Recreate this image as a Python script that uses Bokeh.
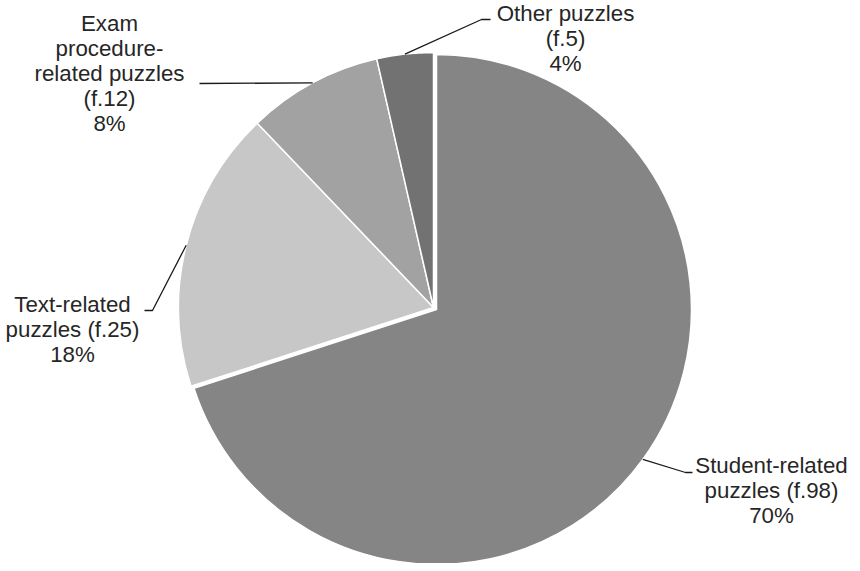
import math
from bokeh.plotting import figure
from bokeh.models import Range1d, ColumnDataSource
from bokeh.core.properties import value
from bokeh.embed import file_html
from bokeh.resources import INLINE

# ---- data ----
categories = ["Student-related puzzles", "Text-related puzzles",
              "Exam procedure-related puzzles", "Other puzzles"]
freq = [98, 25, 12, 5]
pct_labels = ["70%", "18%", "8%", "4%"]
label_lines = [
    ["Student-related", "puzzles (f.%d)" % freq[0], pct_labels[0]],
    ["Text-related", "puzzles (f.%d)" % freq[1], pct_labels[1]],
    ["Exam", "procedure-", "related puzzles", "(f.%d)" % freq[2], pct_labels[2]],
    ["Other puzzles", "(f.%d)" % freq[3], pct_labels[3]],
]
colors = ["#858585", "#c7c7c7", "#a2a2a2", "#727272"]

# ---- layout (reference pixel coordinates, y measured downward) ----
H = 571
centers = [(439, 312), (436, 310), (436, 310), (436, 310)]
radius = 255
label_pos = [(774, 468), (75, 307), (112, 26), (568, 16)]
line_step = 25
leader_ends = [[(688, 475), (695, 475)],
               [(155, 313), (147, 313)],
               [(202, 86)],
               [(484, 22), (493, 22)]]

W_PX, H_PX = 852, 563
p = figure(width=W_PX, height=H_PX, output_backend="svg", toolbar_location=None,
           x_range=Range1d(3, 3 + W_PX), y_range=Range1d(568 - H_PX, 568),
           min_border=0, background_fill_color="white", border_fill_color="white")
p.axis.visible = False
p.grid.visible = False
p.outline_line_color = None

total = float(sum(freq))
cum = 0.0
xs, ys, starts, ends = [], [], [], []
lead_x, lead_y = [], []
tx, ty, tt = [], [], []
for i, f in enumerate(freq):
    a0 = 90 - 360 * cum / total
    cum += f
    a1 = 90 - 360 * cum / total
    cx, cy = centers[i]
    xs.append(cx)
    ys.append(H - cy)
    starts.append(math.radians(a1))
    ends.append(math.radians(a0))
    mid = math.radians((a0 + a1) / 2)
    ex = cx + radius * math.cos(mid)
    ey = (H - cy) + radius * math.sin(mid)
    lx = [ex] + [pt[0] for pt in leader_ends[i]]
    ly = [ey] + [H - pt[1] for pt in leader_ends[i]]
    lead_x.append(lx)
    lead_y.append(ly)
    bx, by = label_pos[i]
    for j, line in enumerate(label_lines[i]):
        tx.append(bx)
        ty.append(H - (by + j * line_step))
        tt.append(line)

src = ColumnDataSource(dict(x=xs, y=ys, start=starts, end=ends, color=colors, cat=categories))
p.wedge(x="x", y="y", radius=radius, start_angle="start", end_angle="end",
        direction="anticlock", fill_color="color", line_color="white",
        line_width=1.5, source=src)

p.multi_line(xs=lead_x, ys=lead_y, line_color="#1a1a1a", line_width=1.3)

p.text(x=tx, y=ty, text=tt, text_align="center", text_baseline="middle",
       text_font=value("Liberation Sans"), text_font_size="22.3px",
       text_color="#262626")

open("out.html", "w").write(file_html(p, INLINE))
